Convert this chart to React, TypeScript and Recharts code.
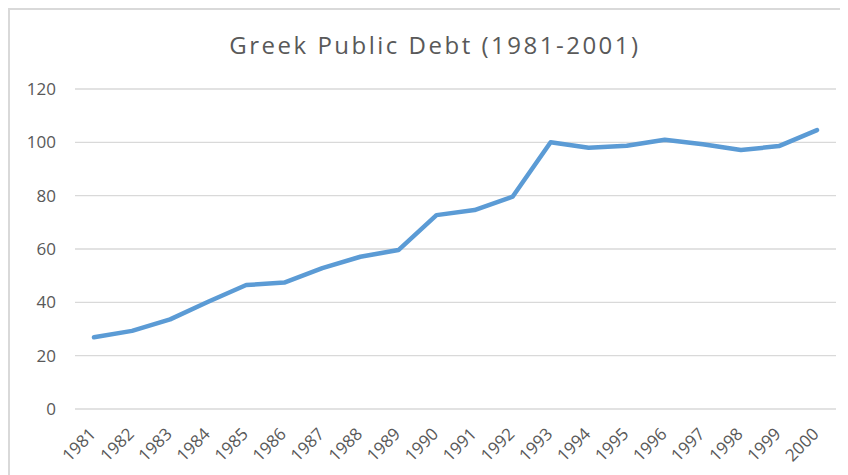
import { LineChart, Line, XAxis, YAxis, CartesianGrid } from "recharts";

const years = [
  "1981", "1982", "1983", "1984", "1985", "1986", "1987", "1988", "1989", "1990",
  "1991", "1992", "1993", "1994", "1995", "1996", "1997", "1998", "1999", "2000",
];
const debt = [
  26.9, 29.3, 33.6, 40.2, 46.5, 47.4, 52.8, 57.1, 59.6, 72.7,
  74.6, 79.6, 100, 98, 98.7, 101, 99.3, 97.1, 98.6, 104.6,
];
const yTicks = [0, 20, 40, 60, 80, 100, 120];

const data = years.map((year, i) => ({ year, debt: debt[i] }));

const FONT = "'Open Sans', sans-serif";
const GREY = "#595959";

function YearTick(props: any) {
  const { x, y, payload } = props;
  const ax = x + 3;
  const ay = y + 18;
  return (
    <text
      x={ax}
      y={ay}
      transform={`rotate(-45, ${ax}, ${ay})`}
      textAnchor="end"
      fill={GREY}
      fontSize={17}
      fontFamily={FONT}
    >
      {payload.value}
    </text>
  );
}

export default function App() {
  return (
    <div
      style={{
        position: "relative",
        width: 838,
        height: 465,
        borderTop: "2px solid #d9d9d9",
        borderLeft: "2px solid #d9d9d9",
        background: "#fff",
      }}
    >
      <div
        style={{
          position: "absolute",
          left: 0,
          top: 18,
          width: 850,
          textAlign: "center",
          fontFamily: FONT,
          fontSize: 24,
          letterSpacing: "2.5px",
          color: GREY,
          lineHeight: "normal",
        }}
      >
        Greek Public Debt (1981-2001)
      </div>
      <LineChart
        width={838}
        height={465}
        data={data}
        margin={{ top: 79, right: 12, left: 0, bottom: 0 }}
      >
        <CartesianGrid vertical={false} stroke="#d9d9d9" strokeWidth={1.4} />
        <XAxis
          dataKey="year"
          axisLine={false}
          tickLine={false}
          interval={0}
          height={66}
          padding={{ left: 19, right: 19 }}
          tick={<YearTick />}
        />
        <YAxis
          domain={[0, 120]}
          ticks={yTicks}
          axisLine={false}
          tickLine={false}
          width={65}
          tickMargin={13}
          tick={{ fill: GREY, fontSize: 17, fontFamily: FONT }}
        />
        <Line
          dataKey="debt"
          stroke="#5b9bd5"
          strokeWidth={4.5}
          strokeLinejoin="round"
          strokeLinecap="round"
          dot={false}
          isAnimationActive={false}
        />
      </LineChart>
    </div>
  );
}
